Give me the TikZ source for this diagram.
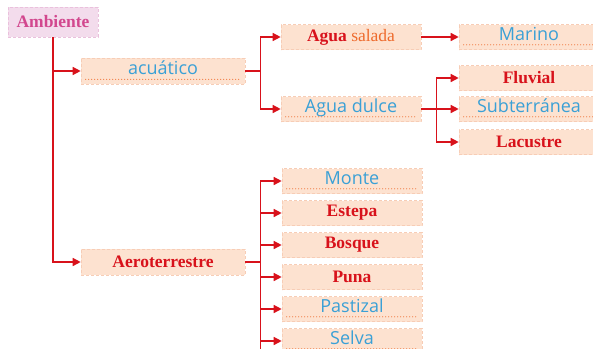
\documentclass[tikz,border=0pt]{standalone}
\usepackage{fontspec}
\setmainfont{Liberation Serif}
\newfontfamily\handfont{Open Sans}
\usetikzlibrary{arrows.meta}

\definecolor{boxfill}{HTML}{FDE2D0}
\definecolor{boxedge}{HTML}{F7CDB6}
\definecolor{rootfill}{HTML}{F3DCEC}
\definecolor{rootedge}{HTML}{EAC0DC}
\definecolor{rojo}{HTML}{D8121B}
\definecolor{naranja}{HTML}{EE6A2C}
\definecolor{celeste}{HTML}{3AA0D6}
\definecolor{rosa}{HTML}{D2478E}

\tikzset{
  box/.style={fill=boxfill, draw=boxedge, densely dashed, line width=0.6pt,
    minimum width=140pt, minimum height=25pt, inner sep=0pt},
  wide/.style={box, minimum width=164pt, minimum height=26pt},
  bold/.style={font=\bfseries\fontsize{17.5}{19}\selectfont, text=rojo},
  hand/.style={font=\handfont\fontsize{18}{20}\selectfont, text=celeste,
    text height=13pt, text depth=6pt},
  link/.style={draw=rojo, line width=1.4pt, solid, -{Triangle[length=8pt,width=8pt]}},
  dots/.style={draw=naranja, line width=1.1pt, dash pattern=on 0pt off 3pt, line cap=round},
}

\begin{document}
\begin{tikzpicture}[x=1pt,y=-1pt]
  \useasboundingbox (0,0) rectangle (593,348);
  \clip (0,0) rectangle (593,348);

  % raiz
  \node[box, fill=rootfill, draw=rootedge, minimum width=90pt, minimum height=30pt,
    font=\bfseries\fontsize{17.5}{19}\selectfont, text=rosa] (amb) at (53,22) {Ambiente};

  % primer nivel
  \node[wide, hand] (acu) at (163,71) {acuático};
  \node[wide, bold] (aero) at (163,262) {Aeroterrestre};

  % ambiente acuatico
  \node[box, bold] (sal) at (351,37) {Agua {\mdseries\color{naranja}salada}};
  \node[box, hand] (dul) at (351,109) {Agua dulce};
  \node[box, hand] (mar) at (529,37) {Marino};
  \node[box, bold] (flu) at (529,78) {Fluvial};
  \node[box, hand] (sub) at (529,109) {Subterránea};
  \node[box, bold] (lac) at (529,142) {Lacustre};

  % ambiente aeroterrestre
  \node[box, hand] (mon) at (352,181) {Monte};
  \node[box, bold] (est) at (352,213) {Estepa};
  \node[box, bold] (bos) at (352,245) {Bosque};
  \node[box, bold] (pun) at (352,277) {Puna};
  \node[box, hand] (pas) at (352,309) {Pastizal};
  \node[box, hand] (sel) at (352,341) {Selva};

  % lineas de completar
  \foreach \n in {acu,dul,mar,sub,mon,pas,sel}
    \draw[dots] ([xshift=5pt,yshift=5pt]\n.south west) -- ([xshift=-5pt,yshift=5pt]\n.south east);

  % conectores
  \draw[link] (amb.south) |- (acu.west);
  \draw[link] (amb.south) |- (aero.west);
  \foreach \n in {sal,dul}
    \draw[link] (acu.east) -- ++(15,0) |- (\n.west);
  \draw[link] (sal.east) -- (mar.west);
  \foreach \n in {flu,sub,lac}
    \draw[link] (dul.east) -- ++(15,0) |- (\n.west);
  \foreach \n in {mon,est,bos,pun,pas,sel}
    \draw[link] (aero.east) -- ++(15,0) |- (\n.west);
  \draw[draw=rojo, line width=1.4pt] (aero.east) ++(15,0) -- ++(0,100);
\end{tikzpicture}
\end{document}
